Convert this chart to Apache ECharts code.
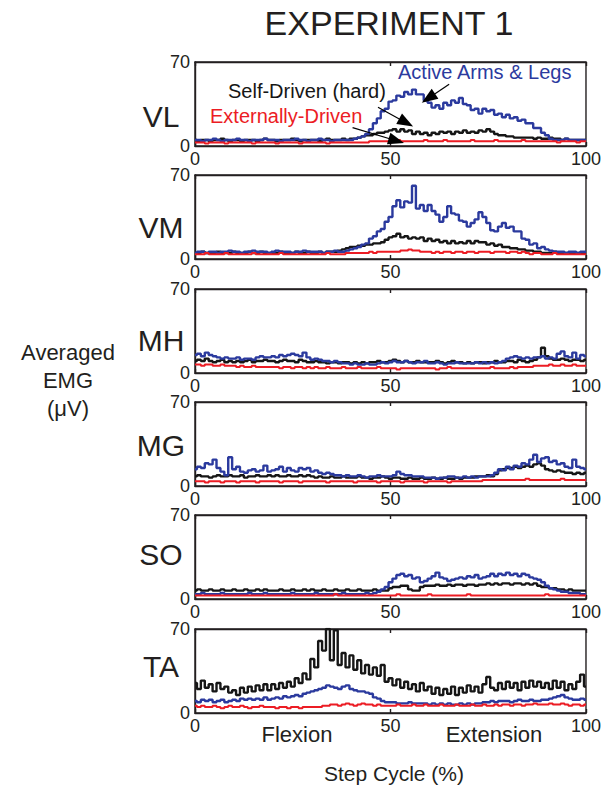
<!DOCTYPE html>
<html>
<head>
<meta charset="utf-8">
<script src="https://cdn.jsdelivr.net/npm/echarts/dist/echarts.min.js"></script>
<style>
html,body{margin:0;padding:0;background:#fff;}
#c{width:604px;height:786px;}
</style>
</head>
<body>
<div id="c"></div>
<script>
// ---------------- DATA (percent of step cycle 0..100, EMG in µV) ----------------
const panelNames = ['VL', 'VM', 'MH', 'MG', 'SO', 'TA'];
const xTicks = [0, 50, 100];
const yTicks = [0, 70];
const seriesNames = ['Active Arms & Legs', 'Self-Driven (hard)', 'Externally-Driven'];

const vlBlue = [5,5,4,5,5,6,5,4,5,5, 5,6,5,5,4,5,5,5,6,5, 5,5,4,5,5,5,6,5,5,4, 5,5,6,5,5,4,5,5,5,5,
  5,6,7,8,10,14,19,23,29,31, 37,38,42,41,45,43,47,43,43,38, 36,32,34,31,36,34,38,36,40,35,
  34,30,31,27,31,29,30,26,27,24, 26,23,24,21,22,19,19,15,15,11, 9,6,5,5,5,6,5,5,5,5, 5];
const vlBlack = [5,4,5,5,4,5,5,6,5,4, 5,5,4,5,5,5,4,5,6,5, 5,4,5,5,5,6,5,4,5,5, 5,5,4,5,6,5,5,5,6,5,
  6,6,7,8,9,9,10,11,11,12, 13,14,12,14,12,13,10,12,10,11, 9,11,10,12,11,12,10,12,11,13,
  11,12,11,13,12,14,12,10,9,9, 8,8,7,7,7,7,7,6,7,6, 6,7,6,6,5,6,5,5,5,5, 5];
const vlRed = [3,3,3,2,3,3,3,3,2,3, 3,3,3,3,3,2,3,3,3,3, 3,2,3,3,3,3,3,2,3,3, 3,3,3,3,2,3,3,3,3,3,
  3,3,3,3,3,4,4,4,4,4, 4,4,5,4,4,4,4,4,4,5, 4,4,4,4,5,4,4,4,4,4,
  4,5,4,4,4,4,4,5,4,4, 4,4,4,4,5,4,4,4,4,4, 4,4,4,3,4,4,4,4,3,4, 4];

const vmBlue = [5,6,6,5,6,6,5,6,6,7, 6,6,5,6,6,7,6,6,6,5, 6,7,6,6,6,5,6,6,7,6, 6,6,6,5,6,6,7,6,6,7,
  8,9,10,12,13,17,19,23,25,31, 35,44,49,43,48,47,61,42,45,40, 45,40,37,31,35,44,38,37,32,31,
  27,30,33,39,35,30,24,23,27,30, 26,27,23,23,17,16,12,13,9,10, 8,7,6,6,6,5,6,6,5,6, 6];
const vmBlack = [5,5,6,5,5,5,6,5,5,5, 6,5,5,5,6,5,5,6,5,5, 5,5,6,5,5,5,6,5,5,6, 5,5,6,5,6,6,6,7,8,9,
  10,10,11,11,12,12,13,13,14,16, 18,19,21,18,19,17,18,17,18,15, 17,15,16,14,15,13,15,13,14,13,
  15,13,15,14,14,12,13,11,12,10, 10,9,9,8,8,7,7,6,6,5, 5,5,6,5,5,5,5,5,5,5, 5];
const vmRed = [4,4,4,5,4,4,4,4,5,4, 4,4,4,4,4,5,4,4,4,4, 4,4,5,4,4,4,4,4,4,4, 4,4,4,4,5,4,4,4,4,5,
  5,5,5,5,5,6,5,6,6,6, 6,6,6,7,7,8,7,7,6,6, 6,5,6,5,6,6,5,6,6,5,
  6,6,5,6,6,6,5,6,6,6, 5,6,6,5,6,5,4,5,5,4, 4,4,5,4,4,4,4,4,4,4, 4];

const mhBlue = [15,16,14,17,15,14,13,12,13,12, 12,13,11,12,12,11,13,14,13,13, 14,13,15,14,15,16,15,14,17,13,
  11,12,11,10,10,9,10,9,8,8, 7,8,7,7,8,7,7,8,9,8, 9,10,9,9,10,9,8,9,9,10,
  8,8,9,8,7,8,8,9,8,8, 8,8,9,8,9,8,9,8,9,10, 12,13,14,13,12,13,12,13,13,14, 12,13,12,16,18,14,13,17,12,15, 14];
const mhBlack = [10,11,10,12,10,9,10,11,9,10, 9,10,9,10,11,9,10,10,11,10, 10,9,10,11,10,10,9,11,10,9,
  9,10,9,9,8,9,9,8,9,9, 8,9,8,9,8,9,9,10,9,9, 10,11,10,9,10,9,9,10,9,9,
  9,9,10,9,8,9,10,9,9,8, 9,8,9,9,8,9,9,10,9,9, 10,10,9,11,10,9,10,11,13,21, 14,12,11,11,12,11,10,11,11,10, 11];
const mhRed = [7,7,6,7,7,6,6,7,6,6, 6,5,6,5,5,6,5,5,5,5, 5,5,4,5,5,4,5,5,4,5, 4,5,4,4,5,4,4,4,5,4,
  4,4,5,4,4,4,4,5,4,4, 4,4,3,4,4,4,4,4,4,4, 4,4,3,4,4,5,4,4,4,4,
  4,4,4,4,4,4,5,4,4,4, 4,5,4,5,5,5,5,6,6,6, 6,7,6,6,7,6,6,7,6,6, 6];

const mgBlue = [14,16,15,19,18,22,15,12,9,24, 14,16,12,11,13,14,12,13,17,12, 13,14,16,12,15,13,12,15,14,15,
  12,13,11,10,11,10,9,9,8,9, 8,8,9,8,7,8,8,9,8,8, 8,9,12,10,9,9,8,8,8,7,
  7,7,6,7,7,8,8,7,7,8, 7,8,7,8,8,8,9,11,14,13, 16,14,17,16,19,18,22,26,20,23, 24,20,21,18,19,16,15,22,16,15, 14];
const mgBlack = [8,9,8,8,7,8,9,8,8,9, 8,8,9,7,8,8,9,8,8,9, 8,9,8,8,9,8,8,9,8,9, 8,7,8,7,7,8,7,7,8,7,
  7,7,8,7,7,6,7,7,8,7, 6,7,7,6,6,7,6,6,7,6, 6,7,6,6,7,6,6,7,6,7,
  7,7,8,8,8,9,8,10,13,14, 15,15,16,15,16,17,16,18,19,17, 14,13,12,13,12,11,11,10,11,10, 11];
const mgRed = [4,4,4,3,4,4,4,3,4,4, 4,3,4,4,4,4,3,4,4,4, 4,4,3,4,4,4,4,3,4,4, 4,4,4,4,3,4,4,4,4,4,
  4,3,4,4,4,4,4,3,4,4, 4,4,4,3,4,4,4,4,4,3, 4,4,4,4,4,3,4,4,4,4,
  4,4,4,4,5,5,5,5,5,5, 5,5,5,5,5,6,5,5,5,5, 5,5,5,5,6,5,5,5,5,5, 5];

const soBlue = [4,4,5,4,4,4,4,5,4,4, 4,4,4,4,5,4,4,4,5,4, 4,4,4,4,4,5,4,4,4,4, 4,5,4,4,4,4,4,4,5,4,
  4,4,4,4,5,4,5,6,8,10, 14,17,20,21,19,20,17,18,14,15, 17,19,22,18,17,15,16,17,18,17,
  19,18,20,17,18,19,21,19,21,20, 22,20,21,19,21,20,18,17,16,14, 11,9,8,7,6,6,5,5,5,4, 4];
const soBlack = [7,8,7,7,8,7,7,8,7,7, 8,7,7,8,7,7,8,7,8,7, 7,7,8,7,7,8,7,7,8,7, 8,7,7,8,7,7,8,7,7,8,
  7,7,8,7,7,7,8,7,7,7, 9,10,10,11,11,8,7,7,10,11, 11,11,12,11,11,12,11,12,12,11,
  12,12,11,12,12,13,12,13,12,13, 13,12,13,13,12,13,12,13,11,10, 10,9,9,8,8,7,8,7,7,7, 7];
const soRed = [3,3,3,3,3,3,3,3,3,3, 3,3,3,3,3,3,3,3,3,3, 3,3,3,3,3,3,3,3,3,3, 3,3,3,3,3,3,4,3,3,3,
  3,3,3,3,3,3,3,3,3,3, 3,3,4,3,3,3,3,3,3,3, 4,3,3,3,3,3,3,3,3,3,
  4,3,3,3,3,3,3,3,3,3, 3,3,3,3,3,3,3,3,3,3, 4,3,3,3,3,3,3,3,3,3, 3];

const taBlue = [10,9,11,10,11,9,10,11,9,10, 11,10,12,11,12,11,12,11,13,11, 12,13,12,14,13,14,15,14,16,17,
  18,19,20,21,23,22,21,20,22,23, 20,19,18,18,17,16,13,12,10,9, 9,9,8,8,8,9,8,8,8,8,
  7,8,7,8,7,8,7,7,8,7, 8,7,8,8,9,9,10,9,10,10, 10,9,10,11,10,10,11,10,10,11, 11,12,13,14,15,13,12,11,11,12, 11];
const taBlack = [25,20,27,21,24,18,25,20,22,17, 19,15,21,17,22,18,23,19,24,19, 24,20,25,21,26,22,29,25,33,28,
  45,38,60,52,70,44,69,40,50,38, 48,36,44,33,40,32,38,31,40,26, 29,23,28,21,26,20,24,18,25,19,
  22,16,21,15,20,16,22,15,21,17, 23,18,22,17,24,30,21,19,25,20, 26,21,25,19,26,21,27,22,26,21, 25,20,27,21,26,19,24,20,26,32, 22];
const taRed = [6,5,6,5,5,6,5,4,5,6, 5,5,6,5,4,5,5,6,5,5, 5,4,5,5,4,5,5,4,5,5, 5,5,5,6,6,7,7,6,7,8,
  7,6,7,8,7,7,6,7,6,6, 6,6,7,6,6,6,7,6,6,7, 6,6,6,7,6,6,6,7,6,6,
  6,7,6,6,7,6,6,7,6,7, 7,6,7,7,6,7,7,8,7,7, 7,8,7,7,8,7,6,7,7,6, 7];

// annotation arrows in panel VL (data coordinates: [x%, µV] tail -> head)
const arrowTails = [[65, 51.4], [46.8, 32.3], [40.3, 15.3]];
const arrowHeads = [[59.7, 39.8], [54, 19.4], [51.5, 4.4]];

// ---------------- CHART ----------------
const panels = [
  [vlBlack, vlBlue, vlRed], [vmBlack, vmBlue, vmRed], [mhBlack, mhBlue, mhRed],
  [mgBlack, mgBlue, mgRed], [soBlack, soBlue, soRed], [taBlack, taBlue, taRed]
];
const FONT = 'Liberation Sans, Arial, Helvetica, sans-serif';
const INK = '#231f20';
const BLUE = '#2b3a9e';
const RED = '#ec1c24';
const BLACK = '#161616';

const gridTops = [62, 175, 289, 402, 515, 629];
const labelY = [116, 227, 340, 445, 554, 666];

const grids = [], xAxes = [], yAxes = [], series = [];
gridTops.forEach((t, i) => {
  grids.push({left: 195, width: 395, top: t, height: 84, show: true, borderColor: INK, borderWidth: 1.4, backgroundColor: 'transparent'});
  const axisCommon = {
    gridIndex: i, type: 'value', min: xTicks[0], max: xTicks[2], interval: xTicks[1] - xTicks[0],
    axisLine: {show: true, onZero: false, lineStyle: {color: INK, width: 1.4}},
    axisTick: {show: true, inside: true, length: 4, lineStyle: {color: INK, width: 1.4}},
    splitLine: {show: false}
  };
  xAxes.push(Object.assign({}, axisCommon, {
    position: 'bottom',
    axisLabel: {fontSize: 18, color: INK, margin: 4, fontFamily: FONT}
  }));
  xAxes.push(Object.assign({}, axisCommon, {position: 'top', axisLabel: {show: false}}));
  yAxes.push({
    gridIndex: i, type: 'value', min: yTicks[0], max: yTicks[1], interval: yTicks[1] - yTicks[0],
    axisLine: {show: true, lineStyle: {color: INK, width: 1.4}},
    axisTick: {show: false}, splitLine: {show: false},
    axisLabel: {fontSize: 18, color: INK, margin: 5, fontFamily: FONT}
  });
  const [blk, blu, red] = panels[i];
  const mk = (name, arr, color, z, w) => ({
    name, type: 'line', xAxisIndex: i * 2, yAxisIndex: i, step: 'middle',
    showSymbol: false, symbol: 'none', z, silent: true, animation: false,
    lineStyle: {color, width: w}, itemStyle: {color},
    data: arr.map((v, k) => [k, v])
  });
  const sBlack = mk(seriesNames[1], blk, BLACK, 2, 2.4);
  if (i === 0) {
    sBlack.markLine = {
      silent: true, animation: false, symbol: ['none', 'triangle'], symbolSize: [12, 16],
      label: {show: false}, lineStyle: {color: '#000', width: 1.2, type: 'solid'},
      emphasis: {disabled: true},
      data: arrowTails.map((t, k) => [{coord: t}, {coord: arrowHeads[k]}])
    };
  }
  series.push(sBlack);
  series.push(mk(seriesNames[0], blu, BLUE, 3, 2.4));
  series.push(mk(seriesNames[2], red, RED, 4, 2));
});

const legendItem = (name, color, left, top) => ({
  data: [{name, icon: 'none'}], left, top, padding: 0, itemWidth: 0, itemHeight: 0, itemGap: 0,
  selectedMode: false, textStyle: {color, fontSize: 20, fontFamily: FONT}
});

const txt = (text, x, y, size, extra) => ({
  type: 'text', x, y, silent: true,
  style: Object.assign({text, fontSize: size, fontFamily: FONT, fill: INK, align: 'center', verticalAlign: 'middle'}, extra || {})
});

const graphics = [
  txt('EXPERIMENT 1', 389, 23, 34),
  txt('Averaged\nEMG\n(μV)', 68, 380, 22, {lineHeight: 28}),
  txt('Flexion', 297, 734, 22),
  txt('Extension', 494, 734, 22),
  txt('Step Cycle (%)', 394, 773, 21)
];
panelNames.forEach((n, i) => graphics.push(txt(n, 161, labelY[i], 30)));

const chart = echarts.init(document.getElementById('c'), null, {renderer: 'svg'});
chart.setOption({
  animation: false,
  backgroundColor: '#fff',
  grid: grids,
  xAxis: xAxes,
  yAxis: yAxes,
  legend: [
    legendItem(seriesNames[0], BLUE, 393, 62),
    legendItem(seriesNames[1], BLACK, 223, 81),
    legendItem(seriesNames[2], RED, 205, 106)
  ],
  graphic: graphics,
  series
});
</script>
</body>
</html>
